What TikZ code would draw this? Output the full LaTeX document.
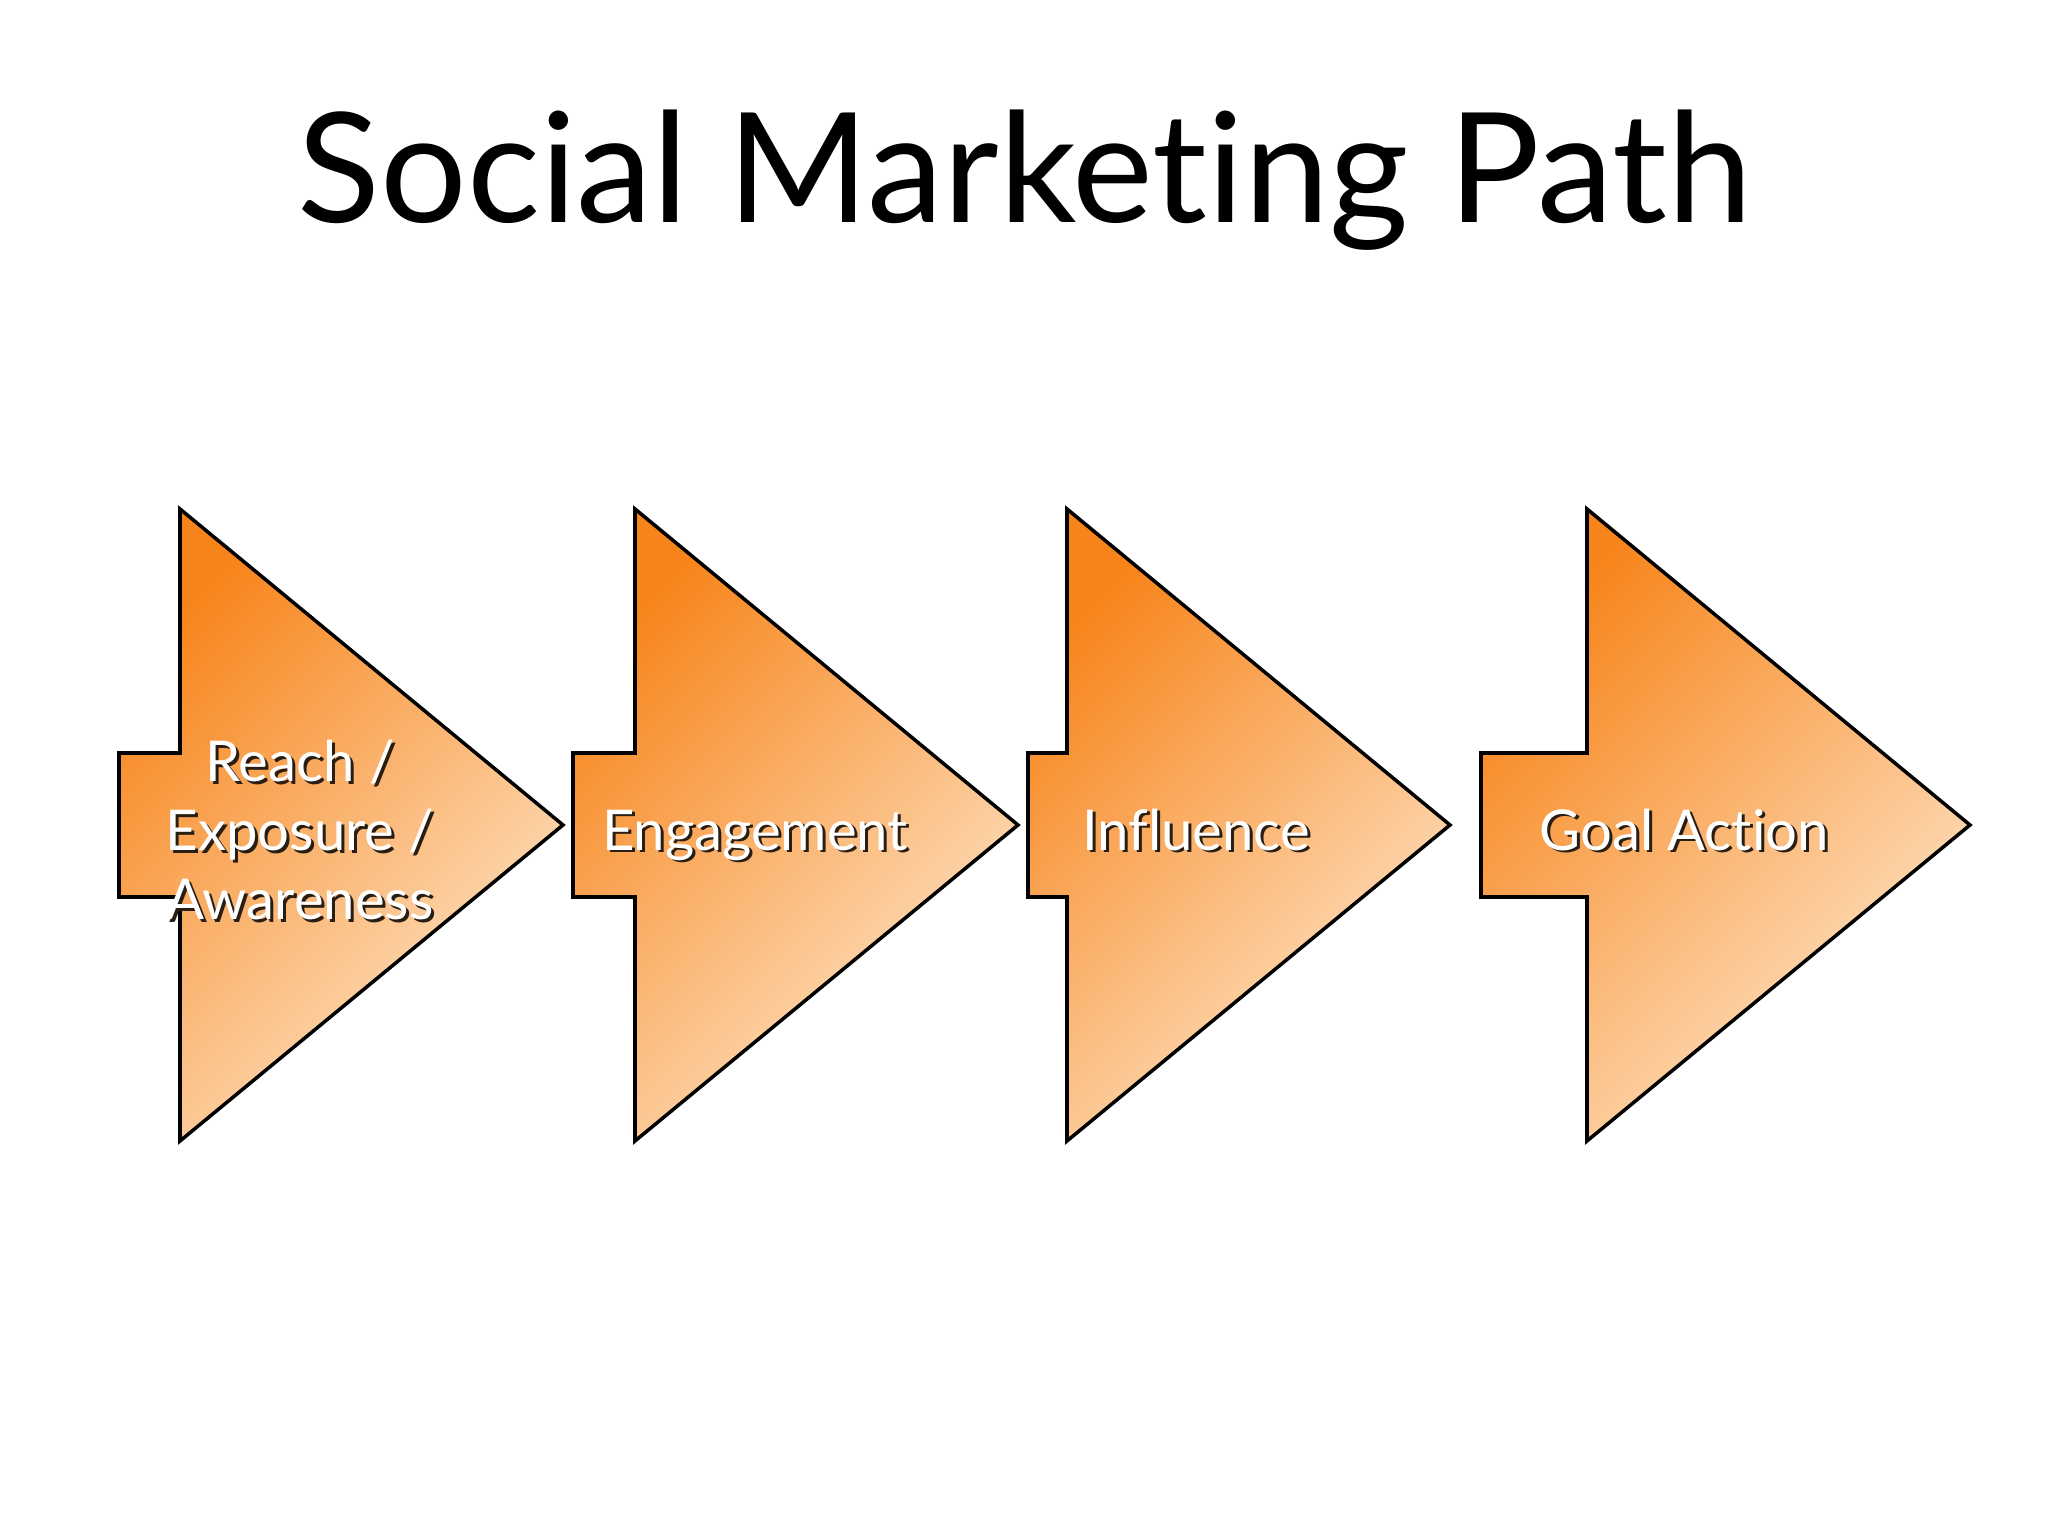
\documentclass[tikz,border=0pt]{standalone}
\usepackage{fontspec}
\setmainfont{Lato}[Ligatures={NoCommon,NoRare,NoContextual}]
\usepackage{tikz}
\definecolor{orange1}{RGB}{247,132,26}
\definecolor{orange2}{RGB}{254,230,202}
\definecolor{shadow1}{RGB}{40,30,20}
\tikzset{
  chevron/.style={draw=black, line width=1pt, line join=miter, top color=orange1, bottom color=orange2, shading angle=45},
  lbl/.style={text=white, font=\fontsize{16}{19.5}\selectfont, align=center, inner sep=0pt},
  lblshadow/.style={lbl, text=shadow1},
  title/.style={font=\fontsize{43.5}{50}\selectfont, inner sep=0pt}
}

\begin{document}
\begin{tikzpicture}
\useasboundingbox (0,0) rectangle (20.48,-15.36);
\node[title, anchor=base] (title) at (10.25,-2.23) {Social Marketing Path};

% the four arrows
\foreach \a/\b in {1.19/1.80, 5.73/6.35, 10.28/10.67, 14.81/15.87}
{
\shade[chevron] (\a,-7.53) -- (\b,-7.53) -- (\b,-5.09) -- ({\b+3.83},-8.25) -- (\b,-11.41) -- (\b,-8.97) -- (\a,-8.97) -- cycle;
}

% labels with shadow
\node[lblshadow] (reachs) at (3.03,-8.33) {Reach /\\Exposure /\\Awareness};
\node[lbl] (reach) at (3.00,-8.30) {Reach /\\Exposure /\\Awareness};
\node[lblshadow, anchor=base] (engages) at (7.58,-8.53) {Engagement};
\node[lbl, anchor=base] (engage) at (7.55,-8.50) {Engagement};
\node[lblshadow, anchor=base] (influences) at (11.99,-8.53) {Influence};
\node[lbl, anchor=base] (influence) at (11.96,-8.50) {Influence};
\node[lblshadow, anchor=base] (goals) at (16.87,-8.53) {Goal Action};
\node[lbl, anchor=base] (goal) at (16.84,-8.50) {Goal Action};
\end{tikzpicture}
\end{document}
